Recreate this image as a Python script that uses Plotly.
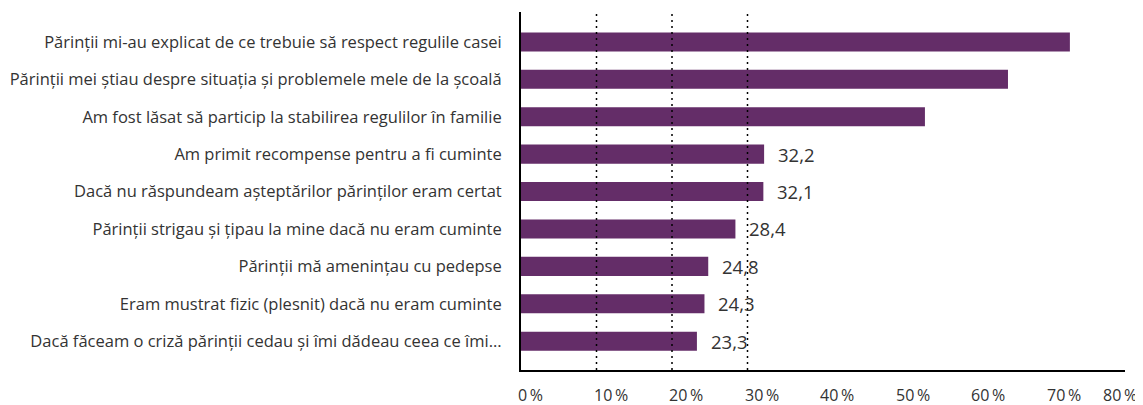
import plotly.graph_objects as go

categories = [
    "Părinții mi-au explicat de ce trebuie să respect regulile casei",
    "Părinții mei știau despre situația și problemele mele de la școală",
    "Am fost lăsat să particip la stabilirea regulilor în familie",
    "Am primit recompense pentru a fi cuminte",
    "Dacă nu răspundeam așteptărilor părinților eram certat",
    "Părinții strigau și țipau la mine dacă nu eram cuminte",
    "Părinții mă amenințau cu pedepse",
    "Eram mustrat fizic (plesnit) dacă nu eram cuminte",
    "Dacă făceam o criză părinții cedau și îmi dădeau ceea ce îmi...",
]
values = [72.7, 64.5, 53.5, 32.2, 32.1, 28.4, 24.8, 24.3, 23.3]
labeled = [False, False, False, True, True, True, True, True, True]
tick_vals = [0, 10, 20, 30, 40, 50, 60, 70, 80]
tick_text = [f"{v}\u2009%" for v in tick_vals]
ref_lines = [10, 20, 30]

BAR = "#642D68"
TXT = "#333333"
FONT = "Open Sans"

fig = go.Figure()
fig.add_trace(go.Bar(
    x=values, y=categories, orientation="h",
    marker=dict(color=BAR, line=dict(width=0)),
    width=0.51, hoverinfo="skip",
))

for xv in ref_lines:
    fig.add_shape(type="line", xref="x", yref="paper", x0=xv, x1=xv, y0=0, y1=0.995,
                  line=dict(color="black", width=1.5, dash="2px,4px"), layer="above")

for v, c, show in zip(values, categories, labeled):
    if show:
        fig.add_annotation(x=v, y=c, xref="x", yref="y", text=f"{v:.1f}".replace(".", ","),
                           showarrow=False, xanchor="left", xshift=12,
                           font=dict(family=FONT, size=18.5, color=TXT))

for tv, tt in zip(tick_vals, tick_text):
    if tv == tick_vals[-1]:
        fig.add_annotation(x=tv, y=0, xref="x", yref="paper", text=tt, showarrow=False,
                           xanchor="right", yanchor="middle", xshift=14, yshift=-25,
                           font=dict(family=FONT, size=16, color=TXT))
    else:
        fig.add_annotation(x=tv, y=0, xref="x", yref="paper", text=tt, showarrow=False,
                           xanchor="left", yanchor="middle", xshift=-5, yshift=-25,
                           font=dict(family=FONT, size=16, color=TXT))

# page has an 8px body margin; figure sized so it ends at the window edge
fig.update_layout(
    width=1135, height=397,
    margin=dict(l=513, r=18, t=4, b=35, autoexpand=False),
    plot_bgcolor="white", paper_bgcolor="white",
    showlegend=False, bargap=0.49,
    font=dict(family=FONT, size=16.5, color=TXT),
)
fig.update_xaxes(range=[0, 80], showgrid=False, zeroline=False, showticklabels=False,
                 ticks="", showline=True, linecolor="black", linewidth=2, fixedrange=True,
                 automargin=False)
fig.update_yaxes(autorange=False, range=[8.77, -0.80], showgrid=False, zeroline=False,
                 showline=True, linecolor="black", linewidth=2, ticks="",
                 ticklabelstandoff=14, tickfont=dict(family=FONT, size=16.5, color=TXT),
                 fixedrange=True, automargin=False)

fig.write_html("out.html")
